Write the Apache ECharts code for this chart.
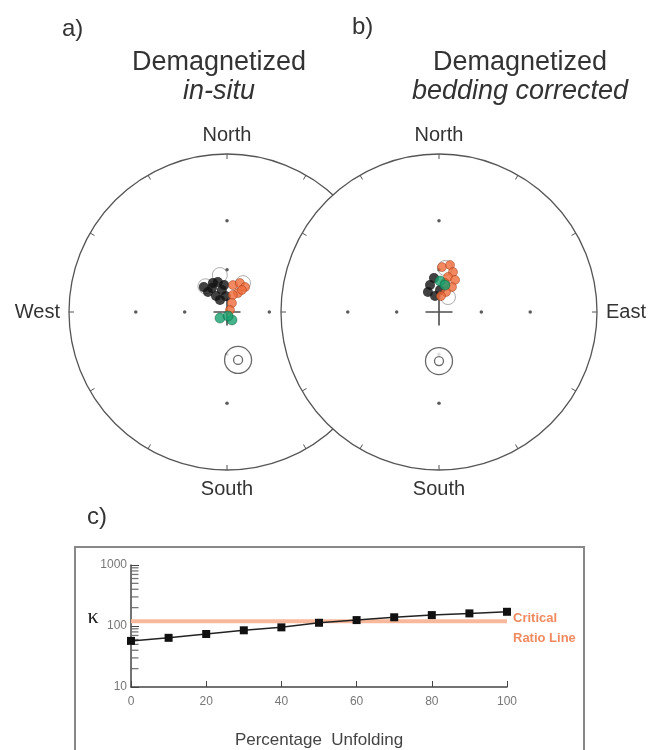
<!DOCTYPE html>
<html><head><meta charset="utf-8">
<script src="https://cdn.jsdelivr.net/npm/echarts@6/dist/echarts.min.js"></script>
<style>html,body{margin:0;padding:0;background:#fff}#c{width:649px;height:750px}</style>
</head><body><div id="c"></div>
<script>
// ---------- stereonet reference dots (30° and 60° inclination on N/E/S/W) ----------
const gridDec = [0, 90, 180, 270, 0, 90, 180, 270];
const gridInc = [30, 30, 30, 30, 60, 60, 60, 60];
const centerDec = [0];
const centerInc = [90];

// ---------- panel a: in-situ ----------
const aBlackDec = [328, 343, 347, 325.5, 316.5, 354, 330, 334, 356, 317];
const aBlackInc = [69.7, 67.6, 73.7, 76, 70.2, 70.5, 79.9, 67, 78.5, 65.7];
const aOrangeDec = [12.5, 24, 36, 30, 19, 29, 34, 56];
const aOrangeInc = [70.2, 67.3, 67.9, 74.2, 77, 82.6, 70.9, 87.4];
const aGreenDec = [229, 148, 166];
const aGreenInc = [83.3, 83.2, 87];
const aRingDec = [349, 29, 320];
const aRingInc = [63.2, 66.4, 66];
const aMeanDec = [167];
const aMeanInc = [55.4];

// ---------- panel b: bedding corrected ----------
const bBlackDec = [341.6, 331, 346, 351.6, 2.6];
const bBlackInc = [69.6, 73.6, 78.1, 65.4, 74.2];
const bOrangeDec = [3.8, 13.2, 19.3, 14.4, 26.6, 11.7, 27.5, 19.3, 7.1];
const bOrangeInc = [58.2, 56, 60, 64.2, 64.4, 68.8, 69.8, 74.7, 78.4];
const bGreenDec = [1.8, 12.5];
const bGreenInc = [67.8, 70.2];
const bRingDec = [31, 7.8];
const bRingInc = [77.4, 58.6];
const bMeanDec = [180];
const bMeanInc = [55.5];

// ---------- panel c: fold test ----------
const unfoldPct = [0, 10, 20, 30, 40, 50, 60, 70, 80, 90, 100];
const kappa = [57, 64, 74, 85, 95, 113, 125, 139, 151, 161, 171];
const criticalKappa = 120;
const xTickStep = 20;
const minorTickVals = [20, 30, 40, 50, 60, 70, 80, 90, 200, 300, 400, 500, 600, 700, 800, 900];

const FONT = 'Liberation Sans, Arial, sans-serif';

// equal-angle (Wulff) projection: radius in units of the net radius
const proj = inc => Math.tan((90 - inc) / 2 * Math.PI / 180);
const toPolar = (decs, incs) => decs.map((d, i) => [proj(incs[i]), d]);

const dirNamesA = {0: 'North', 180: 'South', 270: 'West'};
const dirNamesB = {0: 'North', 90: 'East', 180: 'South'};

function angleAxis(idx, names, z) {
  return {
    polarIndex: idx, type: 'value', min: 0, max: 360, interval: 30,
    startAngle: 90, clockwise: true, z: z,
    axisLine: {lineStyle: {color: '#555', width: 1.3}},
    axisTick: {show: true, inside: true, length: 5, lineStyle: {color: '#555', width: 1}},
    axisLabel: {margin: 9, color: '#333', fontSize: 20, fontFamily: FONT,
      formatter: v => names[v] || ''},
    splitLine: {show: false}
  };
}
function radiusAxis(idx, fill, z) {
  return {
    polarIndex: idx, type: 'value', min: 0, max: 1, interval: 1, z: z,
    axisLine: {show: false}, axisTick: {show: false}, axisLabel: {show: false},
    splitLine: {show: false},
    splitArea: {show: fill, areaStyle: {color: ['#ffffff']}}
  };
}
const crossPath = 'path://M47,0h6v47h47v6h-47v47h-6v-47h-47v-6h47z';

function netSeries(idx, zb, d) {
  const s = (data, o) => Object.assign({type: 'scatter', coordinateSystem: 'polar', polarIndex: idx,
    data: data, silent: true, animation: false}, o);
  return [
    s(toPolar(gridDec, gridInc), {symbol: 'circle', symbolSize: 3.5, itemStyle: {color: '#333'}, z: zb}),
    s(toPolar(centerDec, centerInc), {symbol: crossPath, symbolSize: 27, itemStyle: {color: '#222'}, z: zb}),
    s(toPolar(d.ringDec, d.ringInc), {symbol: 'circle', symbolSize: 15,
      itemStyle: {color: 'rgba(0,0,0,0)', borderColor: '#999', borderWidth: 1}, z: zb + 0.1}),
    s(toPolar(d.blackDec, d.blackInc), {symbol: 'circle', symbolSize: 10, itemStyle: {color: '#111'}, z: zb + 0.2}),
    s(toPolar(d.orangeDec, d.orangeInc), {symbol: 'circle', symbolSize: 9,
      itemStyle: {color: '#ef6b3a', borderColor: '#9a3a1a', borderWidth: 0.6}, z: zb + 0.3}),
    s(toPolar(d.greenDec, d.greenInc), {symbol: 'circle', symbolSize: 10,
      itemStyle: {color: '#17a06e', borderColor: '#0a5a3a', borderWidth: 0.6}, z: zb + 0.4}),
    s(toPolar(d.meanDec, d.meanInc), {symbol: 'circle', symbolSize: 27,
      itemStyle: {color: '#fff', borderColor: '#444', borderWidth: 1.3}, z: zb + 0.5}),
    s(toPolar(d.meanDec, d.meanInc), {symbol: 'circle', symbolSize: 9,
      itemStyle: {color: 'rgba(0,0,0,0)', borderColor: '#444', borderWidth: 1.3}, z: zb + 0.6})
  ];
}

const chart = echarts.init(document.getElementById('c'), null, {renderer: 'canvas'});
const txt = (x, y, text, size, extra) => ({type: 'text', x: x, y: y, silent: true, z: 20,
  style: Object.assign({text: text, font: size + 'px ' + FONT, fill: '#333',
    align: 'left', verticalAlign: 'middle', textAlign: 'left', textVerticalAlign: 'middle'}, extra || {})});

chart.setOption({
  animation: false,
  backgroundColor: '#fff',
  polar: [
    {center: [227, 312], radius: 158},
    {center: [439, 312], radius: 158}
  ],
  angleAxis: [angleAxis(0, dirNamesA, 1), angleAxis(1, dirNamesB, 6)],
  radiusAxis: [radiusAxis(0, false, 1), radiusAxis(1, true, 5)],
  grid: {left: 131, top: 565, width: 376, height: 124},
  xAxis: {
    type: 'value', min: 0, max: 100, interval: xTickStep,
    axisLine: {lineStyle: {color: '#444', width: 1.5}},
    axisTick: {inside: true, length: 6, lineStyle: {color: '#444'}},
    axisLabel: {color: '#777', fontSize: 12, margin: 9, fontFamily: FONT},
    splitLine: {show: false},
    name: 'Percentage  Unfolding', nameLocation: 'middle', nameGap: 45,
    nameTextStyle: {color: '#444', fontSize: 17, fontFamily: FONT}
  },
  yAxis: {
    type: 'log', logBase: 10, min: 10, max: 1000,
    axisLine: {show: true, lineStyle: {color: '#444', width: 1.5}},
    axisTick: {show: true, inside: true, length: 8, lineStyle: {color: '#444'}},
    axisLabel: {color: '#777', fontSize: 12, margin: 4, fontFamily: FONT, formatter: v => String(v)},
    splitLine: {show: false}
  },
  series: [].concat(
    netSeries(0, 2, {blackDec: aBlackDec, blackInc: aBlackInc, orangeDec: aOrangeDec, orangeInc: aOrangeInc,
      greenDec: aGreenDec, greenInc: aGreenInc, ringDec: aRingDec, ringInc: aRingInc, meanDec: aMeanDec, meanInc: aMeanInc}),
    netSeries(1, 7, {blackDec: bBlackDec, blackInc: bBlackInc, orangeDec: bOrangeDec, orangeInc: bOrangeInc,
      greenDec: bGreenDec, greenInc: bGreenInc, ringDec: bRingDec, ringInc: bRingInc, meanDec: bMeanDec, meanInc: bMeanInc}),
    [
      {type: 'scatter', silent: true, data: minorTickVals.map(v => [0, v]), symbol: 'rect',
        symbolSize: [7, 1.3], symbolOffset: [4, 0], itemStyle: {color: '#555'}, z: 3},
      {type: 'line', silent: true, data: [[0, criticalKappa], [100, criticalKappa]], symbol: 'none',
        lineStyle: {color: '#f8b89c', width: 4}, z: 2,
        endLabel: {show: true, formatter: 'Critical\nRatio Line', color: '#f08a60', fontWeight: 'bold',
          fontSize: 13, lineHeight: 20, distance: 6, offset: [0, 7], fontFamily: FONT}},
      {type: 'line', silent: true, data: unfoldPct.map((x, i) => [x, kappa[i]]), symbol: 'rect',
        symbolSize: 8, itemStyle: {color: '#111'}, lineStyle: {color: '#222', width: 1.5}, z: 5}
    ]
  ),
  graphic: [
    txt(62, 29, 'a)', 24),
    txt(352, 27, 'b)', 24),
    txt(87, 517, 'c)', 24),
    txt(219, 63, 'Demagnetized', 27, {align: 'center', textAlign: 'center'}),
    txt(219, 91, 'in-situ', 27, {align: 'center', textAlign: 'center', font: 'italic 27px ' + FONT}),
    txt(520, 63, 'Demagnetized', 27, {align: 'center', textAlign: 'center'}),
    txt(520, 91, 'bedding corrected', 27, {align: 'center', textAlign: 'center', font: 'italic 27px ' + FONT}),
    txt(93, 617, 'κ', 22, {align: 'center', textAlign: 'center', font: '22px Liberation Serif, serif', fill: '#222'}),
    {type: 'rect', silent: true, z: 20, shape: {x: 75, y: 547, width: 509, height: 215},
      style: {fill: 'none', stroke: '#888', lineWidth: 2}}
  ]
});
</script></body></html>
